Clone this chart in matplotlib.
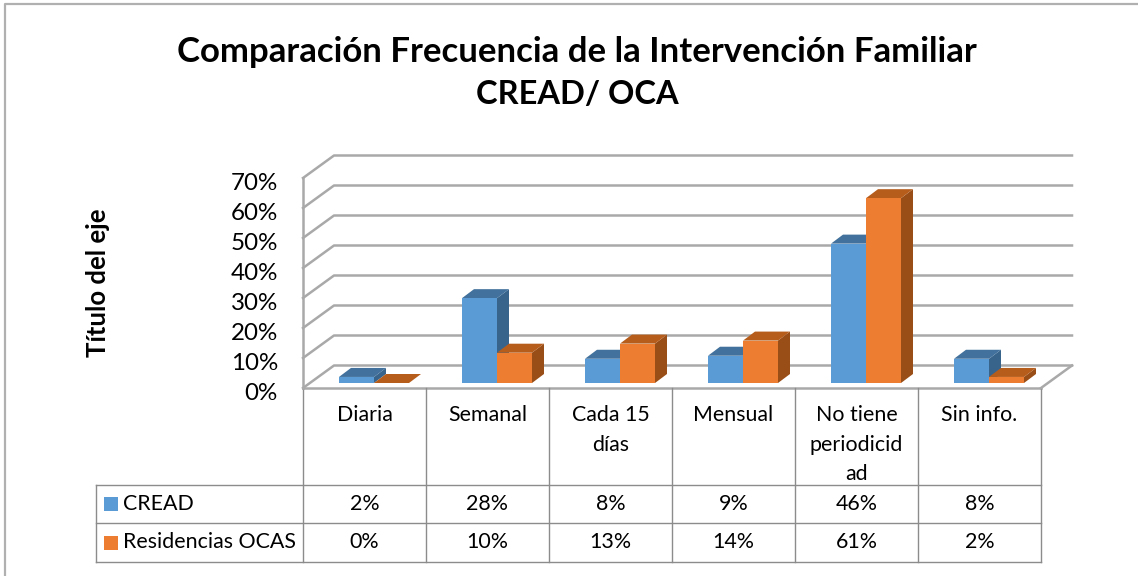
import numpy as np
import matplotlib
matplotlib.use("Agg")
import matplotlib.pyplot as plt
from matplotlib.patches import Polygon, Rectangle

##### Data #####
categories = ["Diaria", "Semanal", "Cada 15\ndías", "Mensual", "No tiene\nperiodicid\nad", "Sin info."]
series_names = ["CREAD", "Residencias OCAS"]
cread = [2, 28, 8, 9, 46, 8]
ocas = [0, 10, 13, 14, 61, 2]
y_ticks = [0, 10, 20, 30, 40, 50, 60, 70]

##### Layout (pixels) #####
W, H = 1138, 576
plotL, plotR, plotB, plotT = 303, 1041, 388, 178
catPx = (plotR - plotL) / 6.0
pctPx = (plotB - plotT) / 70.0

plt.rcParams["font.family"] = ["Lato", "DejaVu Sans"]
fig = plt.figure(figsize=(W / 100, H / 100), dpi=100, facecolor="white")

# overlay in pixel coords for frame, title, table
bg = fig.add_axes([0, 0, 1, 1])
bg.set_xlim(0, W)
bg.set_ylim(H, 0)
bg.axis("off")

ax = fig.add_axes([plotL / W, 1 - plotB / H, (plotR - plotL) / W, (plotB - plotT) / H])
ax.set_xlim(0, 6)
ax.set_ylim(0, 70)
ax.axis("off")

gridCol = "#a9a9a9"
backDx = 31 / catPx
backDy = 22.5 / pctPx

# walls and gridlines
for t in y_ticks:
    ax.plot([0, backDx, 6 + backDx], [t, t + backDy, t + backDy], color=gridCol, lw=1.8, clip_on=False, zorder=1)
    ax.text(-0.205, t - 1.8, "%d%%" % t, ha="right", va="center", fontsize=17.4, color="black", clip_on=False)
ax.plot([0, 0], [0, 70], color=gridCol, lw=1.8, clip_on=False, zorder=1)
ax.plot([6, 6 + backDx], [0, backDy], color=gridCol, lw=1.8, clip_on=False, zorder=1)

# bars: front face via ax.bar, top and side faces as polygons
barW = 35 / catPx
barOff = 9.5 / catPx
barScale = 1.01  # bars run slightly taller than the wall scale
base = 5 / pctPx
depX = 12 / catPx
depY = 9 / pctPx
styles = [("#5b9bd5", "#41719c", "#38648c"), ("#ed7d31", "#b65d1c", "#9a4e17")]

for s, vals in enumerate([cread, ocas]):
    front, top, side = styles[s]
    for i, v in enumerate(vals):
        x0 = i + 0.5 + barOff - barW + s * barW
        x1 = x0 + barW
        h = v * barScale
        y1 = base + h
        z = 3 + s + i * 0.01
        ax.add_patch(Polygon([(x1, base), (x1 + depX, base + depY), (x1 + depX, y1 + depY), (x1, y1)],
                             fc=side, ec="none", clip_on=False, zorder=z))
        ax.add_patch(Polygon([(x0, y1), (x0 + depX, y1 + depY), (x1 + depX, y1 + depY), (x1, y1)],
                             fc=top, ec="none", clip_on=False, zorder=z))
        ax.bar(x0, h, width=barW, bottom=base, align="edge", color=front, clip_on=False, zorder=z + 0.005)

##### Data table #####
tableCol = "#8c8c8c"
rowTop, rowA, rowB, rowEnd = 388, 485, 523, 562
legL = 96
colX = [plotL + i * catPx for i in range(7)]

bg.plot([plotL, plotR], [rowTop, rowTop], color=gridCol, lw=1.8)
for x in colX:
    bg.plot([x, x], [rowTop, rowEnd], color=tableCol, lw=1.0)
bg.plot([legL, legL], [rowA, rowEnd], color=tableCol, lw=1.0)
for y in [rowA, rowB, rowEnd]:
    bg.plot([legL, plotR], [y, y], color=tableCol, lw=1.0)

for i, c in enumerate(categories):
    bg.text(colX[i] + catPx / 2, 405, c, ha="center", va="top", fontsize=15.4, linespacing=1.6)

for s, (name, vals, yc) in enumerate(zip(series_names, [cread, ocas], [(rowA + rowB) / 2, (rowB + rowEnd) / 2])):
    bg.add_patch(Rectangle((104, yc - 7), 14, 14, fc=styles[s][0], ec="none"))
    bg.text(123, yc, name, ha="left", va="center", fontsize=15.4)
    for i, v in enumerate(vals):
        bg.text(colX[i] + catPx / 2, yc, "%d%%" % v, ha="center", va="center", fontsize=15.4)

##### Titles #####
bg.text(577, 52, "Comparación Frecuencia de la Intervención Familiar", ha="center", va="center",
        fontsize=25, fontweight="bold")
bg.text(577, 94, "CREAD/ OCA", ha="center", va="center", fontsize=23.5, fontweight="bold")
bg.text(98, 283, "Título del eje", rotation=90, ha="center", va="center", fontsize=18.5, fontweight="bold")

# outer frame, only top and left fall inside the picture
bg.plot([5, 5, W], [H, 4, 4], color="#b0b0b0", lw=1.6)

fig.savefig("out.png", dpi=100)
